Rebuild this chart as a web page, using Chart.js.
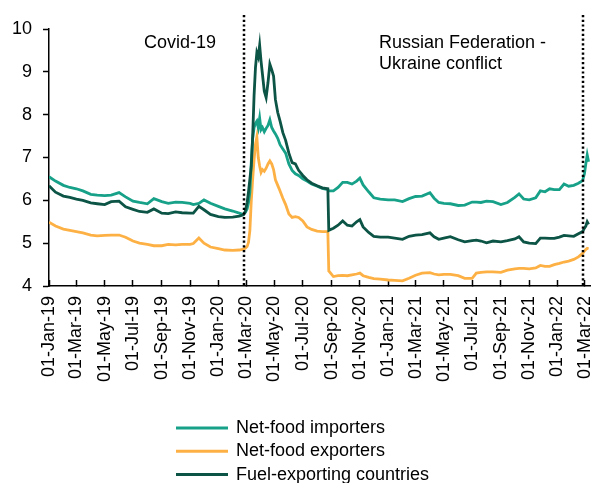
<!DOCTYPE html>
<html>
<head>
<meta charset="utf-8">
<script src="https://cdn.jsdelivr.net/npm/chart.js@4.4.1/dist/chart.umd.min.js"></script>
<style>
  html, body { margin: 0; padding: 0; background: #fff; }
</style>
</head>
<body>
<canvas id="chart" width="594" height="483"></canvas>
<script>
// observation dates (roughly fortnightly, denser around the 2020 spike)
const dates = [
  '2019-01-01','2019-01-15','2019-02-01','2019-02-15','2019-03-01','2019-03-15','2019-04-01','2019-04-15','2019-05-01','2019-05-15',
  '2019-06-01','2019-06-15','2019-07-01','2019-07-15','2019-08-01','2019-08-15','2019-09-01','2019-09-15','2019-10-01','2019-10-15',
  '2019-11-01','2019-11-08','2019-11-20','2019-12-01','2019-12-15','2020-01-01','2020-01-15','2020-02-01','2020-02-15','2020-02-24',
  '2020-02-28','2020-03-03','2020-03-06','2020-03-09','2020-03-12','2020-03-15','2020-03-18','2020-03-21','2020-03-24','2020-03-27',
  '2020-03-30','2020-04-02','2020-04-05','2020-04-09','2020-04-13','2020-04-17','2020-04-21','2020-04-25','2020-04-29','2020-05-03',
  '2020-05-08','2020-05-13','2020-05-19','2020-05-25','2020-06-01','2020-06-08','2020-06-15','2020-06-22','2020-07-01','2020-07-10',
  '2020-07-20','2020-08-01','2020-08-12','2020-08-24','2020-08-26',
  '2020-09-05','2020-09-15','2020-09-25','2020-10-05','2020-10-15','2020-10-25','2020-11-01','2020-11-08','2020-11-20','2020-12-01',
  '2020-12-15','2021-01-01','2021-01-15','2021-02-01','2021-02-15','2021-03-01','2021-03-15','2021-04-01','2021-04-10','2021-04-20',
  '2021-05-01','2021-05-15','2021-06-01','2021-06-15','2021-07-01','2021-07-10','2021-07-20','2021-08-01','2021-08-15','2021-09-01',
  '2021-09-15','2021-10-01','2021-10-10','2021-10-20','2021-11-01','2021-11-15','2021-11-25','2021-12-05','2021-12-15','2021-12-25',
  '2022-01-05','2022-01-15','2022-01-25','2022-02-05','2022-02-15','2022-02-24','2022-02-28','2022-03-03','2022-03-06','2022-03-09'
];

const netFoodImporters = [
  6.55,6.45,6.35,6.30,6.27,6.22,6.14,6.12,6.11,6.12,
  6.18,6.08,5.98,5.95,5.92,6.04,5.97,5.93,5.96,5.95,
  5.93,5.90,5.93,6.01,5.93,5.86,5.80,5.75,5.70,5.67,
  5.72,5.80,5.95,6.20,6.90,7.45,7.70,7.80,7.85,7.70,
  7.92,7.65,7.70,7.60,7.68,7.75,7.88,7.70,7.62,7.55,
  7.45,7.30,7.20,7.10,6.85,6.70,6.62,6.58,6.50,6.45,
  6.38,6.33,6.28,6.25,6.22,
  6.22,6.30,6.42,6.42,6.38,6.45,6.52,6.36,6.20,6.06,
  6.03,6.01,6.01,5.97,6.04,6.09,6.10,6.18,6.05,5.95,
  5.93,5.92,5.88,5.89,5.96,5.96,5.95,5.98,5.97,5.90,
  5.95,6.07,6.15,6.03,6.01,6.06,6.22,6.20,6.27,6.25,
  6.25,6.38,6.33,6.35,6.40,6.46,6.62,6.85,7.06,6.90
];

const netFoodExporters = [
  5.49,5.40,5.33,5.30,5.27,5.24,5.19,5.17,5.18,5.19,
  5.19,5.14,5.05,5.00,4.97,4.94,4.94,4.97,4.96,4.97,
  4.97,4.99,5.12,5.00,4.91,4.87,4.84,4.83,4.84,4.86,
  4.88,4.92,5.02,5.30,6.00,6.50,6.95,7.30,7.48,7.00,
  6.80,6.65,6.72,6.68,6.75,6.85,6.92,6.85,6.72,6.48,
  6.35,6.22,6.05,5.90,5.68,5.60,5.62,5.60,5.52,5.38,
  5.32,5.28,5.27,5.27,4.35,
  4.22,4.24,4.25,4.24,4.26,4.28,4.30,4.24,4.20,4.17,
  4.16,4.14,4.13,4.12,4.18,4.25,4.30,4.31,4.28,4.26,
  4.27,4.27,4.24,4.18,4.18,4.30,4.32,4.33,4.33,4.32,
  4.37,4.40,4.41,4.41,4.40,4.42,4.48,4.46,4.46,4.50,
  4.53,4.56,4.58,4.62,4.68,4.76,4.82,4.85,4.88,4.87
];

const fuelExporters = [
  6.34,6.19,6.10,6.07,6.03,6.00,5.94,5.92,5.90,5.97,
  5.98,5.85,5.79,5.74,5.72,5.80,5.70,5.69,5.73,5.71,
  5.70,5.70,5.86,5.78,5.67,5.62,5.60,5.61,5.63,5.66,
  5.74,5.95,6.20,6.50,6.80,7.50,8.45,9.10,9.45,9.35,
  9.62,9.25,8.95,8.55,8.40,8.75,9.18,9.05,8.90,8.35,
  8.05,7.85,7.58,7.40,7.10,6.88,6.85,6.70,6.58,6.48,
  6.40,6.34,6.29,6.27,5.30,
  5.35,5.42,5.52,5.42,5.40,5.50,5.55,5.38,5.25,5.16,
  5.14,5.14,5.12,5.09,5.16,5.19,5.20,5.24,5.15,5.09,
  5.12,5.15,5.08,5.03,5.06,5.07,5.05,5.01,5.05,5.03,
  5.06,5.10,5.15,5.03,5.00,4.99,5.12,5.12,5.11,5.11,
  5.14,5.18,5.17,5.16,5.22,5.27,5.35,5.40,5.50,5.44
];

const seriesNames = ['Net-food importers', 'Net-food exporters', 'Fuel-exporting countries'];
const tickDates = [
  '2019-01-01','2019-03-01','2019-05-01','2019-07-01','2019-09-01','2019-11-01',
  '2020-01-01','2020-03-01','2020-05-01','2020-07-01','2020-09-01','2020-11-01',
  '2021-01-01','2021-03-01','2021-05-01','2021-07-01','2021-09-01','2021-11-01',
  '2022-01-01','2022-03-01'
];
const xRange = ['2019-01-01', '2022-03-12'];
const eventDates = ['2020-02-26', '2022-02-24'];
const eventLabels = [['Covid-19'], ['Russian Federation -', 'Ukraine conflict']];

const MONTHS = ['Jan','Feb','Mar','Apr','May','Jun','Jul','Aug','Sep','Oct','Nov','Dec'];
const FONT = '"Liberation Sans", Arial, sans-serif';
const origin = Date.parse(xRange[0]);
const toDay = s => (Date.parse(s) - origin) / 86400000;
const tickLabel = s => {
  const [y, m, d] = s.split('-');
  return d + '-' + MONTHS[+m - 1] + '-' + y.slice(2);
};

const colors = ['#17a189', '#fdb145', '#0c5445'];
const series = [netFoodImporters, netFoodExporters, fuelExporters];

Chart.defaults.font.family = FONT;
Chart.defaults.font.size = 18;
Chart.defaults.color = '#000';

// dotted event markers with their captions
const eventLines = {
  id: 'eventLines',
  afterDatasetsDraw(chart, args, opts) {
    const { ctx, chartArea, scales: { x } } = chart;
    ctx.save();
    ctx.font = '18px ' + FONT;
    ctx.fillStyle = '#000';
    ctx.textBaseline = 'middle';
    ctx.textAlign = 'left';
    eventDates.forEach((d, i) => {
      const px = Math.round(x.getPixelForValue(toDay(d)));
      ctx.strokeStyle = '#000';
      ctx.lineWidth = 2.5;
      ctx.setLineDash([2.2, 2.5]);
      ctx.beginPath();
      ctx.moveTo(px, chartArea.top - 14);
      ctx.lineTo(px, chartArea.bottom);
      ctx.stroke();

      const left = px - opts.captionOffsets[i];
      eventLabels[i].forEach((t, j) => ctx.fillText(t, left, chartArea.top + 14 + j * 21));
    });
    ctx.restore();
  }
};

// legend stacked vertically below the axis labels
const stackedLegend = {
  id: 'stackedLegend',
  afterDraw(chart) {
    const { ctx } = chart;
    ctx.save();
    ctx.font = '18px ' + FONT;
    ctx.textBaseline = 'middle';
    ctx.textAlign = 'left';
    chart.data.datasets.forEach((ds, i) => {
      const y = 428 + i * 23.3;
      ctx.strokeStyle = ds.borderColor;
      ctx.lineWidth = 3;
      ctx.beginPath();
      ctx.moveTo(176, y);
      ctx.lineTo(228, y);
      ctx.stroke();
      ctx.fillStyle = '#000';
      ctx.fillText(ds.label, 236, y);
    });
    ctx.restore();
  }
};

new Chart(document.getElementById('chart'), {
  type: 'line',
  data: {
    datasets: seriesNames.map((name, i) => ({
      label: name,
      data: dates.map((d, j) => ({ x: toDay(d), y: series[i][j] })),
      borderColor: colors[i],
      borderWidth: 2.8,
      pointRadius: 0,
      tension: 0,
      order: [1, 2, 0][i]
    }))
  },
  options: {
    responsive: false,
    animation: false,
    layout: { padding: { top: 29, right: 4, bottom: 0, left: 0 } },
    plugins: {
      legend: { display: false },
      tooltip: { enabled: false },
      eventLines: { captionOffsets: [100, 204] }
    },
    scales: {
      x: {
        type: 'linear',
        min: toDay(xRange[0]),
        max: toDay(xRange[1]),
        afterBuildTicks: s => { s.ticks = tickDates.map(d => ({ value: toDay(d) })); },
        afterFit: s => { s.height = 197; s.paddingLeft = 0; s.paddingRight = 0; },
        grid: { drawOnChartArea: false, tickLength: -6, tickWidth: 1.5, color: '#000', tickColor: '#000' },
        border: { color: '#000', width: 1.5 },
        ticks: {
          autoSkip: false,
          minRotation: 90,
          maxRotation: 90,
          padding: 16,
          color: '#000',
          callback: (v, i) => tickLabel(tickDates[i])
        }
      },
      y: {
        min: 4,
        max: 10,
        afterFit: s => { s.width = 49; s.paddingTop = 0; s.paddingBottom = 0; },
        grid: { drawOnChartArea: false, tickLength: 6, tickWidth: 1.5, color: '#000', tickColor: '#000' },
        border: { color: '#000', width: 1.5 },
        ticks: { stepSize: 1, padding: 11, color: '#000' }
      }
    }
  },
  plugins: [eventLines, stackedLegend]
});
</script>
</body>
</html>
